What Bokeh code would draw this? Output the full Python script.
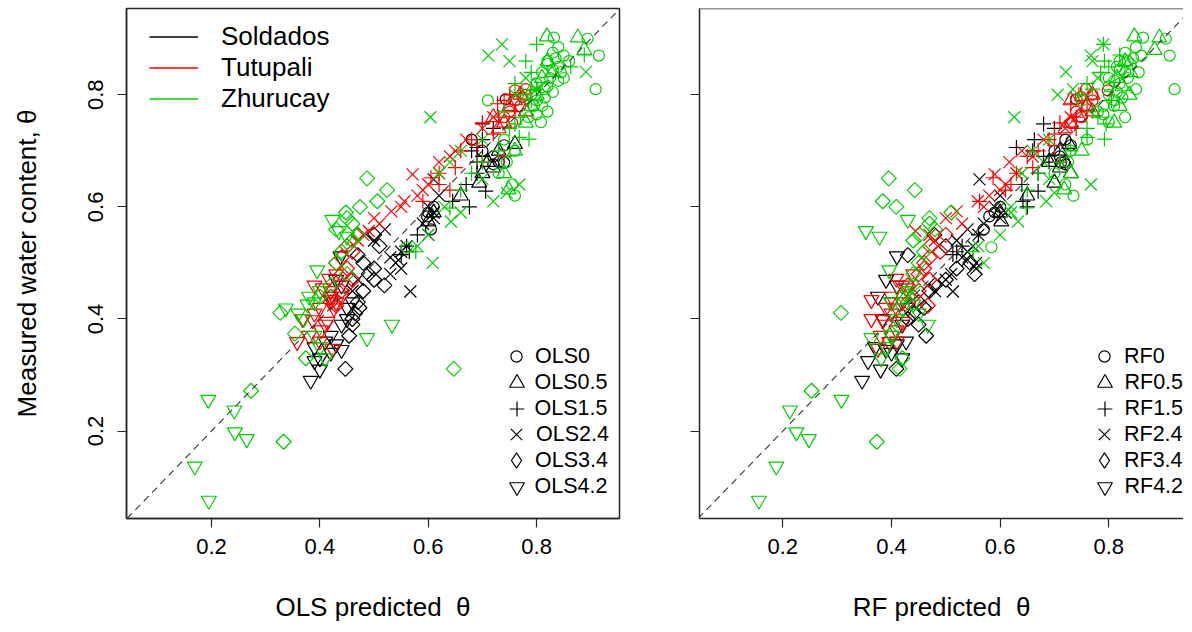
import math
from bokeh.plotting import figure
from bokeh.models import (ColumnDataSource, FixedTicker, Range1d, Slope, Legend,
                          LegendItem, Span)
from bokeh.layouts import row
from bokeh.embed import file_html
from bokeh.resources import INLINE

# ---------------- data (measured theta y, OLS predicted, RF predicted) ----------------
SITES = ["Soldados", "Tutupali", "Zhurucay"]
DEPTHS = ["0", "0.5", "1.5", "2.4", "3.4", "4.2"]
TICKS = [0.2, 0.4, 0.6, 0.8]

sol_d0_y   = [0.792, 0.680, 0.679, 0.676, 0.583, 0.560, 0.700, 0.720, 0.600, 0.690, 0.710, 0.590]
sol_d0_ols = [0.743, 0.730, 0.740, 0.720, 0.598, 0.605, 0.700, 0.680, 0.610, 0.720, 0.740, 0.600]
sol_d0_rf  = [0.740, 0.718, 0.712, 0.720, 0.580, 0.570, 0.700, 0.720, 0.600, 0.710, 0.730, 0.590]

sol_d05_y   = [0.712, 0.643, 0.660, 0.680, 0.590, 0.574, 0.700, 0.670, 0.620]
sol_d05_ols = [0.760, 0.694, 0.700, 0.710, 0.610, 0.600, 0.730, 0.720, 0.660]
sol_d05_rf  = [0.727, 0.700, 0.730, 0.690, 0.600, 0.602, 0.710, 0.710, 0.650]

sol_d15_y   = [0.748, 0.740, 0.720, 0.706, 0.700, 0.628, 0.610, 0.600, 0.530, 0.520, 0.515, 0.680,
               0.690, 0.660, 0.640, 0.550]
sol_d15_ols = [0.700, 0.720, 0.700, 0.690, 0.680, 0.706, 0.645, 0.676, 0.560, 0.565, 0.550, 0.690,
               0.700, 0.690, 0.670, 0.580]
sol_d15_rf  = [0.680, 0.700, 0.663, 0.630, 0.660, 0.670, 0.642, 0.650, 0.530, 0.520, 0.513, 0.690,
               0.680, 0.670, 0.640, 0.560]

sol_d24_y   = [0.449, 0.500, 0.490, 0.510, 0.505, 0.550, 0.570, 0.580, 0.600, 0.649, 0.540, 0.560, 0.470, 0.450,
               0.520, 0.530, 0.590, 0.620, 0.480]
sol_d24_ols = [0.567, 0.540, 0.550, 0.530, 0.545, 0.600, 0.590, 0.610, 0.600, 0.610, 0.500, 0.520, 0.470, 0.460,
               0.550, 0.560, 0.610, 0.620, 0.530]
sol_d24_rf  = [0.513, 0.556, 0.556, 0.530, 0.540, 0.560, 0.570, 0.600, 0.590, 0.562, 0.520, 0.540, 0.500, 0.480,
               0.540, 0.550, 0.610, 0.600, 0.510]

sol_d34_y   = [0.311, 0.370, 0.390, 0.410, 0.420, 0.460, 0.470, 0.480, 0.514, 0.500, 0.550,
               0.430, 0.450, 0.490, 0.530, 0.400]
sol_d34_ols = [0.447, 0.454, 0.460, 0.465, 0.473, 0.519, 0.500, 0.490, 0.470, 0.480, 0.500,
               0.470, 0.480, 0.500, 0.510, 0.460]
sol_d34_rf  = [0.409, 0.464, 0.450, 0.440, 0.460, 0.480, 0.500, 0.553, 0.430, 0.545, 0.479,
               0.450, 0.470, 0.520, 0.500, 0.430]

sol_d42_y   = [0.290, 0.325, 0.330, 0.340, 0.345, 0.360, 0.355, 0.440, 0.470, 0.512, 0.400, 0.430,
               0.310, 0.350, 0.370, 0.390, 0.420, 0.460]
sol_d42_ols = [0.383, 0.390, 0.400, 0.420, 0.440, 0.410, 0.430, 0.420, 0.430, 0.438, 0.450, 0.460,
               0.400, 0.390, 0.420, 0.440, 0.450, 0.440]
sol_d42_rf  = [0.346, 0.357, 0.420, 0.400, 0.390, 0.427, 0.410, 0.375, 0.390, 0.410, 0.384, 0.400,
               0.380, 0.370, 0.400, 0.420, 0.430, 0.410]

tut_d0_y   = [0.810, 0.796, 0.808, 0.780, 0.770, 0.760, 0.750, 0.790, 0.800]
tut_d0_ols = [0.780, 0.774, 0.760, 0.770, 0.750, 0.740, 0.755, 0.760, 0.780]
tut_d0_rf  = [0.758, 0.749, 0.798, 0.760, 0.740, 0.750, 0.730, 0.770, 0.770]

tut_d05_y   = [0.800, 0.790, 0.770, 0.740, 0.760, 0.780, 0.750]
tut_d05_ols = [0.770, 0.760, 0.780, 0.730, 0.720, 0.750, 0.740]
tut_d05_rf  = [0.770, 0.730, 0.770, 0.720, 0.745, 0.760, 0.730]

tut_d15_y   = [0.800, 0.784, 0.770, 0.750, 0.730, 0.720, 0.700, 0.680, 0.660, 0.652, 0.630, 0.610, 0.690, 0.740,
               0.790, 0.760, 0.710, 0.670, 0.640]
tut_d15_ols = [0.750, 0.728, 0.760, 0.700, 0.720, 0.680, 0.660, 0.700, 0.620, 0.605, 0.640, 0.590, 0.740, 0.750,
               0.740, 0.730, 0.690, 0.650, 0.620]
tut_d15_rf  = [0.745, 0.730, 0.760, 0.710, 0.700, 0.690, 0.670, 0.710, 0.630, 0.587, 0.610, 0.562, 0.650, 0.740,
               0.750, 0.740, 0.700, 0.660, 0.620]

tut_d24_y   = [0.658, 0.610, 0.592, 0.580, 0.557, 0.550, 0.680, 0.700, 0.720, 0.740, 0.640, 0.620, 0.570,
               0.760, 0.690, 0.660, 0.630, 0.600, 0.540]
tut_d24_ols = [0.571, 0.556, 0.532, 0.500, 0.490, 0.480, 0.620, 0.650, 0.670, 0.700, 0.600, 0.580, 0.510,
               0.720, 0.640, 0.620, 0.590, 0.550, 0.470]
tut_d24_rf  = [0.590, 0.559, 0.520, 0.500, 0.444, 0.470, 0.617, 0.640, 0.680, 0.720, 0.610, 0.580, 0.530,
               0.730, 0.660, 0.630, 0.600, 0.570, 0.480]

tut_d34_y   = [0.530, 0.520, 0.500, 0.480, 0.460, 0.440, 0.424, 0.550, 0.470, 0.510, 0.490, 0.450, 0.430]
tut_d34_ols = [0.450, 0.460, 0.430, 0.440, 0.450, 0.420, 0.430, 0.470, 0.460, 0.440, 0.450, 0.440, 0.420]
tut_d34_rf  = [0.471, 0.490, 0.460, 0.450, 0.430, 0.440, 0.467, 0.500, 0.470, 0.470, 0.460, 0.450, 0.430]

tut_d42_y   = [0.359, 0.400, 0.398, 0.380, 0.395, 0.419, 0.434, 0.455, 0.460, 0.472, 0.347, 0.440, 0.420,
               0.370, 0.390, 0.410, 0.430, 0.450, 0.480, 0.360]
tut_d42_ols = [0.358, 0.368, 0.387, 0.402, 0.414, 0.426, 0.420, 0.405, 0.390, 0.417, 0.423, 0.440, 0.400,
               0.380, 0.410, 0.390, 0.430, 0.420, 0.430, 0.400]
tut_d42_rf  = [0.396, 0.363, 0.384, 0.409, 0.421, 0.410, 0.363, 0.427, 0.420, 0.409, 0.375, 0.400, 0.390,
               0.380, 0.390, 0.400, 0.420, 0.430, 0.440, 0.410]

zhu_d0_y   = [0.902, 0.900, 0.870, 0.810, 0.875, 0.865, 0.855, 0.850, 0.840, 0.830, 0.820, 0.810, 0.800, 0.790,
              0.780, 0.770, 0.751, 0.760, 0.790, 0.700, 0.720, 0.640, 0.660, 0.870, 0.860, 0.840, 0.830, 0.528,
              0.885, 0.860, 0.845, 0.825, 0.815, 0.805, 0.795, 0.780, 0.765, 0.680, 0.620]
zhu_d0_ols = [0.832, 0.894, 0.915, 0.909, 0.830, 0.835, 0.820, 0.840, 0.810, 0.825, 0.800, 0.815, 0.790, 0.800,
              0.810, 0.820, 0.808, 0.785, 0.710, 0.760, 0.740, 0.755, 0.730, 0.850, 0.860, 0.845, 0.850, 0.560,
              0.840, 0.820, 0.830, 0.840, 0.820, 0.830, 0.815, 0.795, 0.800, 0.745, 0.760]
zhu_d0_rf  = [0.863, 0.905, 0.912, 0.921, 0.830, 0.845, 0.840, 0.815, 0.830, 0.800, 0.820, 0.850, 0.800, 0.810,
              0.790, 0.780, 0.800, 0.830, 0.750, 0.730, 0.760, 0.720, 0.700, 0.860, 0.820, 0.855, 0.835, 0.584,
              0.850, 0.835, 0.820, 0.810, 0.800, 0.815, 0.825, 0.810, 0.790, 0.725, 0.735]

zhu_d05_y   = [0.904, 0.902, 0.880, 0.860, 0.840, 0.800, 0.780, 0.631, 0.700, 0.750, 0.830, 0.815, 0.660]
zhu_d05_ols = [0.819, 0.876, 0.888, 0.820, 0.830, 0.800, 0.790, 0.748, 0.760, 0.780, 0.810, 0.795, 0.740]
zhu_d05_rf  = [0.847, 0.893, 0.884, 0.830, 0.840, 0.838, 0.820, 0.718, 0.750, 0.810, 0.815, 0.825, 0.730]

zhu_d15_y   = [0.890, 0.871, 0.850, 0.860, 0.820, 0.800, 0.770, 0.748, 0.721, 0.724, 0.700, 0.660, 0.630, 0.598,
               0.520, 0.680, 0.840, 0.810, 0.790, 0.760, 0.740]
zhu_d15_ols = [0.800, 0.888, 0.863, 0.780, 0.760, 0.775, 0.740, 0.760, 0.786, 0.768, 0.730, 0.680, 0.660, 0.640,
               0.577, 0.700, 0.790, 0.800, 0.790, 0.770, 0.750]
zhu_d15_rf  = [0.790, 0.820, 0.800, 0.792, 0.760, 0.750, 0.770, 0.795, 0.792, 0.760, 0.730, 0.670, 0.650, 0.648,
               0.550, 0.710, 0.785, 0.770, 0.805, 0.780, 0.760]

zhu_d24_y   = [0.870, 0.890, 0.841, 0.760, 0.500, 0.574, 0.610, 0.640, 0.625, 0.800, 0.830, 0.810, 0.700, 0.680,
               0.660, 0.720, 0.600, 0.550, 0.860, 0.650, 0.590, 0.530]
zhu_d24_ols = [0.711, 0.736, 0.891, 0.604, 0.608, 0.642, 0.720, 0.768, 0.745, 0.760, 0.780, 0.800, 0.660, 0.640,
               0.620, 0.700, 0.630, 0.600, 0.750, 0.700, 0.660, 0.580]
zhu_d24_rf  = [0.767, 0.790, 0.721, 0.626, 0.570, 0.633, 0.685, 0.767, 0.700, 0.706, 0.780, 0.734, 0.660, 0.680,
               0.640, 0.690, 0.620, 0.600, 0.770, 0.690, 0.620, 0.560]

zhu_d34_y   = [0.651, 0.630, 0.610, 0.600, 0.590, 0.570, 0.550, 0.560, 0.411, 0.374, 0.330, 0.311, 0.272, 0.181,
               0.520, 0.480, 0.580, 0.540, 0.500, 0.460, 0.440]
zhu_d34_ols = [0.487, 0.524, 0.506, 0.474, 0.448, 0.460, 0.470, 0.430, 0.327, 0.354, 0.374, 0.647, 0.273, 0.333,
               0.440, 0.450, 0.450, 0.460, 0.430, 0.420, 0.400]
zhu_d34_rf  = [0.395, 0.443, 0.384, 0.409, 0.510, 0.470, 0.452, 0.480, 0.307, 0.400, 0.420, 0.415, 0.253, 0.373,
               0.460, 0.440, 0.470, 0.440, 0.450, 0.440, 0.430]

zhu_d42_y   = [0.577, 0.557, 0.547, 0.487, 0.426, 0.419, 0.390, 0.366, 0.330, 0.256, 0.237, 0.198, 0.186, 0.137,
               0.076, 0.430, 0.410, 0.450, 0.440, 0.400, 0.370, 0.350]
zhu_d42_ols = [0.423, 0.435, 0.450, 0.395, 0.377, 0.337, 0.533, 0.487, 0.410, 0.194, 0.242, 0.243, 0.265, 0.169,
               0.195, 0.390, 0.360, 0.400, 0.380, 0.370, 0.390, 0.400]
zhu_d42_rf  = [0.430, 0.353, 0.378, 0.396, 0.440, 0.420, 0.467, 0.363, 0.381, 0.308, 0.213, 0.225, 0.248, 0.188,
               0.156, 0.400, 0.450, 0.430, 0.420, 0.410, 0.400, 0.390]

GROUPS = [
    ("Soldados", "0", sol_d0_y, sol_d0_ols, sol_d0_rf),
    ("Soldados", "0.5", sol_d05_y, sol_d05_ols, sol_d05_rf),
    ("Soldados", "1.5", sol_d15_y, sol_d15_ols, sol_d15_rf),
    ("Soldados", "2.4", sol_d24_y, sol_d24_ols, sol_d24_rf),
    ("Soldados", "3.4", sol_d34_y, sol_d34_ols, sol_d34_rf),
    ("Soldados", "4.2", sol_d42_y, sol_d42_ols, sol_d42_rf),
    ("Tutupali", "0", tut_d0_y, tut_d0_ols, tut_d0_rf),
    ("Tutupali", "0.5", tut_d05_y, tut_d05_ols, tut_d05_rf),
    ("Tutupali", "1.5", tut_d15_y, tut_d15_ols, tut_d15_rf),
    ("Tutupali", "2.4", tut_d24_y, tut_d24_ols, tut_d24_rf),
    ("Tutupali", "3.4", tut_d34_y, tut_d34_ols, tut_d34_rf),
    ("Tutupali", "4.2", tut_d42_y, tut_d42_ols, tut_d42_rf),
    ("Zhurucay", "0", zhu_d0_y, zhu_d0_ols, zhu_d0_rf),
    ("Zhurucay", "0.5", zhu_d05_y, zhu_d05_ols, zhu_d05_rf),
    ("Zhurucay", "1.5", zhu_d15_y, zhu_d15_ols, zhu_d15_rf),
    ("Zhurucay", "2.4", zhu_d24_y, zhu_d24_ols, zhu_d24_rf),
    ("Zhurucay", "3.4", zhu_d34_y, zhu_d34_ols, zhu_d34_rf),
    ("Zhurucay", "4.2", zhu_d42_y, zhu_d42_ols, zhu_d42_rf),
]

# ---------------- styles ----------------
FONT = "Liberation Sans"
BOX = "#262626"
SITE_COLORS = {"Soldados": "#000000", "Tutupali": "#FF0000", "Zhurucay": "#00CD00"}
MARKER = {
    "0":   dict(marker="circle", size=11, angle=0.0),
    "0.5": dict(marker="triangle", size=15, angle=0.0),
    "1.5": dict(marker="cross", size=15, angle=0.0),
    "2.4": dict(marker="x", size=17, angle=0.0),
    "3.4": dict(marker="square", size=10.6, angle=math.pi / 4),
    "4.2": dict(marker="inverted_triangle", size=15, angle=0.0),
}
# legend glyph box (Bokeh draws legend markers at 0.4 * box)
LEG_BOX = {"0": 28, "0.5": 37, "1.5": 37, "2.4": 40, "3.4": 38, "4.2": 37}
LEG_ROW_Y = [359, 385, 411, 437, 463, 489]   # page y of legend rows

PAGE0 = 1                      # observed page offset of the figure canvas
FIG_H = 624
FRAME_TOP, FRAME_BOTTOM = 9, 521
Y_START, Y_END = 0.044, 0.954
NAN = float("nan")


def make_panel(model, idx, width, min_left, min_right, frame_left, x_start, x_end,
               full_box, show_ylabels, key_cx, key_label_x, site_legend):
    p = figure(width=width, height=FIG_H, x_range=Range1d(x_start, x_end),
               y_range=Range1d(Y_START, Y_END), output_backend="svg",
               toolbar_location=None, min_border_left=min_left,
               min_border_right=min_right, min_border_top=FRAME_TOP - PAGE0,
               min_border_bottom=FIG_H - (FRAME_BOTTOM - FRAME_TOP) - (FRAME_TOP - PAGE0))
    p.grid.visible = False
    p.background_fill_color = "white"
    p.border_fill_color = "white"
    if full_box:
        p.outline_line_color = BOX
        p.outline_line_width = 1.5
    else:
        p.outline_line_color = None
        p.add_layout(Span(location=Y_END, dimension="width", line_color=BOX, line_width=1.5))

    for ax in (p.xaxis[0], p.yaxis[0]):
        ax.ticker = FixedTicker(ticks=TICKS)
        ax.major_tick_in = 0
        ax.major_tick_out = 9
        ax.minor_tick_in = 0
        ax.minor_tick_out = 0
        ax.axis_line_color = BOX
        ax.axis_line_width = 1.5
        ax.major_tick_line_color = BOX
        ax.major_tick_line_width = 1.2
        ax.major_label_text_font = FONT
        ax.major_label_text_font_size = "22px"
        ax.major_label_text_color = "black"
        ax.axis_label_text_font = FONT
        ax.axis_label_text_font_size = "26px"
        ax.axis_label_text_font_style = "normal"
        ax.axis_label_text_color = "black"
    p.xaxis.axis_label = model + " predicted\u00a0 \u03b8"
    p.xaxis.major_label_standoff = 11
    p.xaxis.axis_label_standoff = 35
    p.yaxis.major_label_orientation = "vertical"
    if show_ylabels:
        p.yaxis.axis_label = "Measured water content, \u03b8"
        p.yaxis.major_label_standoff = 14
        p.yaxis.axis_label_standoff = 44
    else:
        p.yaxis.major_label_text_color = None
        p.yaxis.major_label_standoff = 0

    p.add_layout(Slope(gradient=1, y_intercept=0, line_color="#333333",
                       line_dash="7 5", line_width=1.1))

    key_renderers = {}
    for site, depth, yv, ols, rf in GROUPS:
        xv = (ols, rf)[idx]
        src = ColumnDataSource(dict(x=xv, y=yv))
        st = MARKER[depth]
        r = p.scatter("x", "y", source=src, marker=st["marker"], size=st["size"],
                      angle=st["angle"], line_color=SITE_COLORS[site], fill_color=None,
                      line_width=1.2)
        if site == "Soldados":
            key_renderers[depth] = r
    # legend keys drawn with no angle -> use an unplotted diamond key for depth 3.4
    key_renderers["3.4"] = p.scatter(x=[NAN], y=[NAN], marker="diamond", size=16,
                                     line_color="black", fill_color=None, line_width=1.2)

    # depth (symbol) legend, one single-item legend per row for per-symbol size
    for depth, yc in zip(DEPTHS, LEG_ROW_Y):
        g = LEG_BOX[depth]
        leg = Legend(items=[LegendItem(label=model + depth, renderers=[key_renderers[depth]])],
                     location=(key_cx - g / 2 - frame_left, FRAME_BOTTOM - (yc + g / 2)),
                     glyph_width=g, glyph_height=g, spacing=0, padding=0, margin=0,
                     label_standoff=int(round(key_label_x - (key_cx + g / 2))),
                     label_text_font=FONT, label_text_font_size="21.5px",
                     label_text_color="black", border_line_color=None,
                     background_fill_alpha=0)
        p.add_layout(leg)

    if site_legend:
        items = []
        for site in SITES:
            lr = p.line(x=[NAN, NAN], y=[NAN, NAN], line_color=SITE_COLORS[site], line_width=1.3)
            items.append(LegendItem(label=site, renderers=[lr]))
        leg = Legend(items=items, location=(150 - frame_left, FRAME_BOTTOM - 116.5),
                     glyph_width=49, glyph_height=31, spacing=0, padding=0, margin=0,
                     label_standoff=23, label_text_font=FONT, label_text_font_size="26px",
                     label_text_color="black", border_line_color=None,
                     background_fill_alpha=0)
        p.add_layout(leg)
    return p


# left frame: page x 127..620 ; right frame: page x 700..1184
LEFT_W = (127 - PAGE0) + 493 + 20
left = make_panel("OLS", 0, width=LEFT_W, min_left=127 - PAGE0, min_right=20, frame_left=127,
                  x_start=0.043, x_end=0.953, full_box=True, show_ylabels=True,
                  key_cx=517, key_label_x=536, site_legend=True)
RIGHT_MIN_LEFT = 700 - PAGE0 - LEFT_W
right = make_panel("RF", 1, width=RIGHT_MIN_LEFT + 484, min_left=RIGHT_MIN_LEFT, min_right=0,
                   frame_left=700, x_start=0.0467, x_end=0.9375, full_box=False,
                   show_ylabels=False, key_cx=1105, key_label_x=1125, site_legend=False)

layout = row(left, right)
open("out.html", "w").write(file_html(layout, INLINE))
